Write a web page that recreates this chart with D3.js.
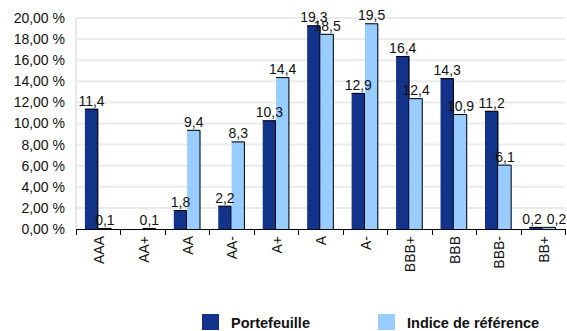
<!DOCTYPE html>
<html>
<head>
<meta charset="utf-8">
<script src="https://cdn.jsdelivr.net/npm/d3@7"></script>
<style>
  html, body { margin: 0; padding: 0; background: #fff; }
  svg { display: block; font-family: "Liberation Sans", Arial, sans-serif; }
</style>
</head>
<body>
<svg id="chart" width="567" height="331"></svg>
<script>
// Rating buckets
const categories = ["AAA", "AA+", "AA", "AA-", "A+", "A", "A-", "BBB+", "BBB", "BBB-", "BB+"];
// Weight in % for each series
const portefeuille = [11.4, 0, 1.8, 2.2, 10.3, 19.3, 12.9, 16.4, 14.3, 11.2, 0.2];
const indice = [0.1, 0.1, 9.4, 8.3, 14.4, 18.5, 19.5, 12.4, 10.9, 6.1, 0.2];
// Which values get a label (AA+ has no portfolio label)
const portefeuilleLabel = [true, false, true, true, true, true, true, true, true, true, true];
const indiceLabel = [true, true, true, true, true, true, true, true, true, true, true];
const yTicks = [0, 2, 4, 6, 8, 10, 12, 14, 16, 18, 20];
const seriesNames = ["Portefeuille", "Indice de référence"];
const colors = ["#13338a", "#99ccff"];

const svg = d3.select("#chart");
const plotLeft = 76, plotRight = 565, plotTop = 18, plotBottom = 229;
const fs = 14;

const x = d3.scaleBand().domain(categories).range([plotLeft, plotRight]).paddingInner(0).paddingOuter(0);
const y = d3.scaleLinear().domain([0, 20]).range([plotBottom, plotTop]);
const fmt = v => d3.format(".1f")(v).replace(".", ",");
const fmtTick = v => d3.format(".2f")(v).replace(".", ",") + " %";

// Gridlines
svg.append("g").selectAll("line").data(yTicks.slice(1)).join("line")
  .attr("x1", plotLeft).attr("x2", plotRight)
  .attr("y1", d => y(d)).attr("y2", d => y(d))
  .attr("stroke", "#ebebeb").attr("stroke-width", 2);

// Vertical axis line
svg.append("line").attr("x1", plotLeft).attr("x2", plotLeft).attr("y1", plotTop).attr("y2", plotBottom)
  .attr("stroke", "#e6e6e6").attr("stroke-width", 2);

// Y tick labels
svg.append("g").selectAll("text").data(yTicks).join("text")
  .attr("x", 65).attr("y", d => y(d)).attr("dy", "0.35em")
  .attr("text-anchor", "end").attr("font-size", fs).attr("fill", "#111")
  .text(fmtTick);

// Bars
const groupFrac = 0.6;
const bw = x.bandwidth() * groupFrac / 2;
const series = [portefeuille, indice];
const labelsOn = [portefeuilleLabel, indiceLabel];
const bx = (c, si) => x(c) + x.bandwidth() * (1 - groupFrac) / 2 + si * bw;
// spread the two labels apart where both bars are tiny
const labelShift = (c, si) => (c === "BB+" ? (si === 0 ? -4 : 7) : 0);

const barLayer = svg.append("g");
const labelLayer = svg.append("g");

series.forEach((vals, si) => {
  const g = barLayer.append("g");
  const items = categories.map((c, i) => ({ c, v: vals[i], label: labelsOn[si][i] }));
  g.selectAll("rect").data(items).join("rect")
    .attr("x", d => bx(d.c, si))
    .attr("y", d => y(d.v))
    .attr("width", bw)
    .attr("height", d => y(0) - y(d.v))
    .attr("fill", colors[si]);
  // dark edge on top and right of each bar
  g.selectAll("path").data(items.filter(d => d.v > 0)).join("path")
    .attr("d", d => {
      const x0 = bx(d.c, si), x1 = bx(d.c, si) + bw, yt = y(d.v) + 0.5;
      return `M${x0},${yt}H${x1 - 0.5}V${y(0)}`;
    })
    .attr("fill", "none").attr("stroke", "#000").attr("stroke-width", 1);
  labelLayer.append("g").selectAll("text").data(items.filter(d => d.label)).join("text")
    .attr("x", d => bx(d.c, si) + bw / 2 + labelShift(d.c, si))
    .attr("y", d => y(d.v) - 3)
    .attr("text-anchor", "middle").attr("font-size", fs).attr("fill", "#111")
    .text(d => fmt(d.v));
});

// X axis
svg.append("line").attr("x1", plotLeft).attr("x2", plotRight).attr("y1", plotBottom + 0.5).attr("y2", plotBottom + 0.5)
  .attr("stroke", "#000").attr("stroke-width", 1);
const tickXs = categories.map(c => x(c)).concat([plotRight]);
svg.append("g").selectAll("line").data(tickXs).join("line")
  .attr("x1", d => Math.round(d) + 0.5).attr("x2", d => Math.round(d) + 0.5)
  .attr("y1", plotBottom).attr("y2", plotBottom + 6)
  .attr("stroke", "#000");

svg.append("g").selectAll("text").data(categories).join("text")
  .attr("transform", c => `translate(${x(c) + x.bandwidth() / 2 + 1},236) rotate(-90)`)
  .attr("text-anchor", "end").attr("dy", "0.35em")
  .attr("font-size", fs).attr("fill", "#111")
  .text(c => c);

// Legend
const legendX = [202, 378];
const lg = svg.append("g");
seriesNames.forEach((n, i) => {
  lg.append("rect").attr("x", legendX[i]).attr("y", 314).attr("width", 17).attr("height", 16)
    .attr("fill", colors[i]);
  lg.append("text").attr("x", legendX[i] + 29).attr("y", 328)
    .attr("font-size", 14.5).attr("font-weight", "bold").attr("fill", "#111")
    .text(n);
});
</script>
</body>
</html>
